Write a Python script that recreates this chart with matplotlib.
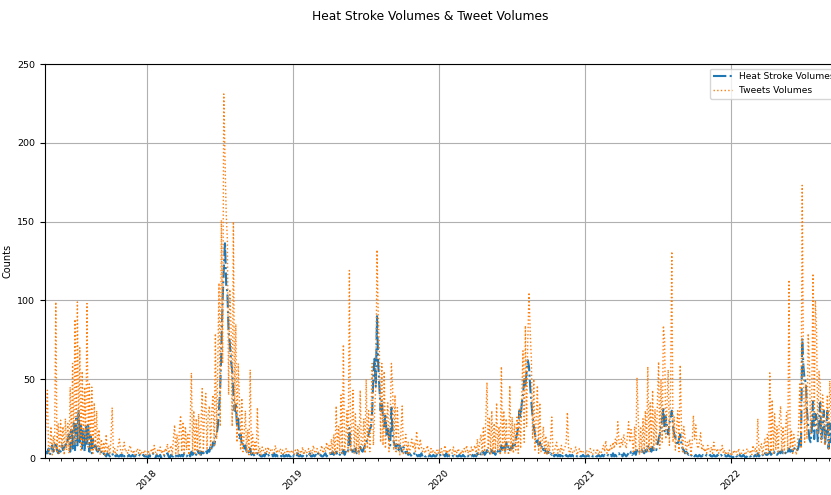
import numpy as np
import pandas as pd
import matplotlib
matplotlib.use("Agg")
import matplotlib.pyplot as plt
import matplotlib.dates as mdates

# values every 3 days
tweets_2017 = [10, 25, 43, 3, 6, 20, 2, 14, 5, 99,
               4, 22, 3, 24, 6, 20, 2, 25, 5, 22,
               3, 45, 6, 60, 8, 88, 10, 99, 12, 70,
               5, 55, 8, 45, 10, 98, 6, 47, 4, 45,
               3, 35, 5, 30, 4, 18, 2, 12, 3, 10,
               2, 15, 3, 8, 2, 12, 32, 3, 6, 2,
               4, 8, 12, 5, 3, 6, 10, 4, 5, 3,
               6, 8, 4, 3, 5, 2, 4, 6, 3, 5,
               2, 4, 3, 5, 2]
heat_2017 = [2, 4, 3, 6, 2, 5, 8, 4, 6, 10,
             5, 3, 6, 4, 8, 5, 6, 10, 8, 12,
             15, 4, 18, 6, 22, 5, 25, 8, 30, 10,
             22, 6, 18, 4, 20, 8, 22, 4, 15, 3,
             12, 6, 8, 5, 4, 6, 3, 4, 2, 3,
             2, 1, 3, 2, 1, 2, 3, 1, 2, 1,
             2, 1, 1, 2, 1, 3, 1, 2, 1, 1,
             2, 1, 1, 2, 1, 1, 2, 1, 1, 2,
             1, 1, 2, 1, 1]

tweets_2018 = [3, 5, 2, 4, 6, 3, 8, 4, 2, 5,
               4, 7, 3, 5, 2, 6, 4, 9, 3, 5,
               8, 2, 12, 21, 3, 15, 2, 18, 27, 4,
               23, 3, 20, 5, 16, 2, 22, 54, 4, 30,
               3, 25, 5, 28, 2, 20, 44, 4, 30, 41,
               5, 28, 33, 6, 30, 40, 8, 79, 12, 60,
               111, 20, 151, 60, 231, 190, 155, 138, 40, 107,
               85, 20, 150, 30, 85, 10, 60, 38, 5, 38,
               4, 15, 30, 3, 18, 2, 56, 3, 15, 2,
               10, 2, 32, 3, 6, 2, 7, 5, 3, 6,
               4, 7, 3, 5, 6, 3, 4, 8, 3, 5,
               4, 6, 3, 5, 2, 4, 6, 3, 5, 4, 3, 5]
heat_2018 = [1, 0, 2, 1, 1, 3, 1, 0, 2, 1,
             1, 2, 0, 1, 2, 1, 1, 3, 1, 0,
             2, 1, 1, 2, 1, 3, 1, 2, 1, 2,
             1, 3, 2, 1, 2, 3, 1, 4, 2, 3,
             4, 2, 5, 3, 4, 2, 5, 3, 4, 5,
             3, 5, 4, 8, 5, 10, 8, 12, 15, 20,
             30, 45, 70, 100, 120, 137, 110, 105, 80, 73,
             62, 55, 40, 30, 35, 20, 25, 12, 15, 8,
             10, 6, 8, 4, 5, 3, 6, 2, 3, 2,
             1, 2, 3, 1, 2, 1, 1, 2, 1, 3,
             1, 2, 1, 1, 2, 1, 3, 1, 2, 1,
             1, 2, 1, 3, 1, 1, 2, 1, 2, 1, 1, 2]

tweets_2019 = [4, 2, 5, 3, 6, 2, 4, 3, 7, 2,
               5, 3, 4, 6, 2, 5, 3, 8, 4, 3,
               6, 4, 2, 5, 8, 3, 6, 4, 10, 5,
               8, 2, 12, 3, 15, 2, 33, 4, 20, 3,
               40, 3, 72, 5, 12, 30, 3, 119, 4, 18,
               43, 3, 28, 4, 20, 2, 43, 5, 8, 25,
               3, 50, 6, 30, 4, 25, 60, 8, 30, 45,
               132, 91, 68, 10, 60, 8, 55, 6, 20, 35,
               4, 25, 60, 45, 5, 40, 3, 32, 15, 2,
               18, 33, 2, 8, 15, 3, 10, 2, 8, 12,
               6, 10, 4, 17, 8, 5, 12, 7, 4, 6,
               3, 5, 8, 4, 2, 6, 3, 5, 4, 2, 5, 3]
heat_2019 = [1, 2, 1, 1, 3, 1, 2, 1, 1, 2,
             1, 1, 2, 1, 3, 1, 1, 2, 1, 2,
             1, 3, 1, 2, 1, 1, 2, 3, 1, 2,
             2, 3, 1, 4, 2, 3, 4, 2, 3, 2,
             4, 3, 5, 2, 4, 3, 5, 19, 6, 3,
             5, 4, 6, 3, 5, 4, 7, 5, 4, 6,
             8, 10, 12, 15, 18, 20, 30, 54, 63, 45,
             90, 60, 45, 30, 37, 25, 20, 28, 15, 20,
             12, 8, 32, 15, 10, 8, 6, 10, 5, 8,
             6, 4, 7, 5, 3, 4, 2, 3, 2, 1,
             2, 3, 1, 2, 1, 2, 1, 3, 1, 2,
             1, 1, 2, 1, 2, 1, 1, 2, 1, 1, 2, 1]

tweets_2020 = [5, 3, 6, 2, 4, 8, 3, 5, 2, 6,
               4, 3, 7, 2, 5, 3, 6, 4, 2, 5,
               3, 6, 4, 8, 3, 5, 2, 7, 4, 6,
               8, 2, 12, 3, 10, 15, 2, 20, 4, 25,
               48, 3, 26, 2, 30, 4, 22, 3, 35, 5,
               20, 2, 58, 4, 30, 3, 25, 6, 2, 46,
               4, 26, 3, 22, 5, 26, 3, 31, 6, 40,
               68, 10, 84, 20, 75, 105, 80, 62, 12, 50,
               5, 25, 46, 3, 35, 4, 10, 20, 2, 14,
               2, 10, 3, 12, 26, 2, 4, 7, 10, 3,
               6, 4, 8, 3, 5, 7, 10, 29, 5, 3,
               6, 4, 3, 5, 7, 2, 4, 6, 3, 5, 4, 3]
heat_2020 = [1, 2, 1, 1, 2, 1, 3, 1, 2, 1,
             1, 2, 1, 1, 2, 1, 1, 2, 1, 1,
             2, 1, 1, 2, 1, 2, 1, 1, 2, 1,
             2, 1, 3, 2, 1, 3, 2, 4, 2, 3,
             5, 3, 4, 2, 5, 3, 4, 2, 5, 4,
             6, 4, 8, 5, 7, 4, 10, 6, 8, 5,
             7, 6, 10, 8, 12, 15, 20, 30, 25, 35,
             40, 50, 45, 55, 62, 58, 45, 35, 26, 20,
             15, 10, 12, 8, 10, 6, 8, 5, 6, 4,
             3, 4, 2, 3, 2, 3, 1, 2, 2, 1,
             2, 1, 3, 1, 2, 1, 2, 1, 1, 2,
             1, 2, 1, 1, 2, 1, 1, 2, 1, 1, 2, 1]

tweets_2021 = [3, 5, 2, 4, 6, 3, 2, 5, 4, 3,
               6, 2, 4, 3, 5, 8, 4, 11, 3, 6,
               4, 8, 5, 10, 6, 12, 8, 23, 10, 6,
               12, 8, 15, 10, 6, 14, 23, 10, 18, 12,
               3, 20, 4, 51, 26, 2, 20, 3, 25, 4,
               30, 5, 58, 4, 35, 6, 43, 5, 31, 8,
               35, 61, 6, 50, 10, 84, 75, 12, 35, 56,
               8, 45, 131, 10, 26, 5, 20, 30, 4, 59,
               22, 3, 20, 13, 2, 10, 8, 12, 2, 10,
               27, 12, 21, 8, 6, 10, 16, 5, 8, 4,
               6, 3, 8, 5, 4, 7, 3, 10, 5, 4,
               6, 3, 5, 4, 8, 3, 5, 2, 4, 3, 5, 2]
heat_2021 = [1, 1, 2, 1, 1, 2, 1, 1, 2, 1,
             1, 2, 1, 1, 2, 1, 2, 1, 1, 2,
             1, 2, 1, 3, 1, 2, 1, 2, 3, 1,
             2, 1, 3, 2, 1, 2, 3, 2, 4, 2,
             3, 4, 2, 5, 3, 4, 3, 5, 4, 3,
             5, 4, 8, 5, 6, 4, 7, 5, 6, 5,
             8, 12, 15, 20, 25, 32, 17, 26, 20, 15,
             22, 26, 30, 20, 15, 13, 10, 8, 12, 15,
             9, 6, 5, 3, 4, 3, 2, 3, 2, 1,
             2, 1, 2, 1, 1, 2, 1, 1, 2, 1,
             1, 2, 1, 1, 2, 1, 1, 2, 1, 1,
             2, 1, 1, 2, 1, 1, 2, 1, 1, 2, 1, 1]

tweets_2022 = [3, 2, 5, 3, 4, 2, 6, 3, 2, 4,
               5, 3, 2, 6, 4, 3, 5, 2, 8, 4,
               6, 2, 25, 3, 6, 9, 2, 8, 12, 2,
               15, 3, 54, 4, 37, 3, 28, 5, 20, 3,
               25, 33, 4, 20, 3, 18, 29, 5, 113, 6,
               18, 3, 15, 9, 2, 8, 20, 47, 6, 173,
               58, 10, 47, 12, 79, 60, 15, 40, 117, 20,
               100, 79, 15, 55, 47, 10, 40, 30, 8, 25,
               40, 5, 49, 30, 4, 35, 6, 25, 3, 20,
               4, 15]
heat_2022 = [1, 0, 1, 2, 1, 1, 0, 2, 1, 1,
             2, 1, 0, 1, 2, 1, 1, 2, 1, 1,
             2, 1, 3, 1, 2, 1, 2, 1, 3, 2,
             2, 3, 4, 2, 3, 2, 4, 3, 2, 3,
             4, 3, 5, 3, 4, 3, 5, 4, 6, 4,
             5, 4, 7, 5, 6, 5, 7, 13, 8, 76,
             58, 50, 48, 30, 20, 12, 10, 18, 36, 12,
             28, 25, 10, 22, 35, 12, 20, 30, 8, 18,
             30, 6, 22, 10, 20, 5, 15, 8, 10, 3,
             5, 4]

tweets_years = [tweets_2017, tweets_2018, tweets_2019, tweets_2020, tweets_2021, tweets_2022]
heat_years = [heat_2017, heat_2018, heat_2019, heat_2020, heat_2021, heat_2022]
starts = ["2017-04-21", "2018-01-01", "2019-01-01", "2020-01-01", "2021-01-01", "2022-01-01"]

dates = pd.DatetimeIndex(np.concatenate([
    pd.date_range(s, periods=len(v), freq="3D") for s, v in zip(starts, tweets_years)
]))
tweets = np.concatenate(tweets_years)
heat = np.concatenate(heat_years)

fig = plt.figure(figsize=(8.31, 4.95), dpi=100)
ax = fig.add_axes([45 / 831, 37 / 495, 798 / 831, 394 / 495])

ax.plot(dates, heat, linestyle="-.", color="#1f77b4", linewidth=1.5, label="Heat Stroke Volumes")
ax.plot(dates, tweets, linestyle=":", color="#ff7f0e", linewidth=1.0, label="Tweets Volumes")

ax.set_xlim(pd.Timestamp("2017-04-21"), pd.Timestamp("2022-10-07"))
ax.set_ylim(0, 250)
ax.set_yticks([0, 50, 100, 150, 200, 250])
ax.xaxis.set_major_locator(mdates.YearLocator())
ax.xaxis.set_major_formatter(mdates.DateFormatter("%Y"))
ax.xaxis.set_minor_locator(mdates.MonthLocator())
ax.tick_params(axis="both", labelsize=6.8)
ax.tick_params(axis="x", which="minor", length=2)
plt.setp(ax.get_xticklabels(), rotation=45, ha="center")
ax.grid(True, which="major", color="#b0b0b0", linewidth=0.8)

ax.set_xlabel("Date", fontsize=7)
ax.set_ylabel("Counts", fontsize=7)
ax.yaxis.set_label_coords(-32 / 798, 0.5)
ax.legend(loc="upper right", fontsize=6.6)
fig.suptitle("Heat Stroke Volumes & Tweet Volumes", x=430 / 831, y=0.966, va="center", fontsize=8.8)

fig.savefig("out.png", dpi=100)
